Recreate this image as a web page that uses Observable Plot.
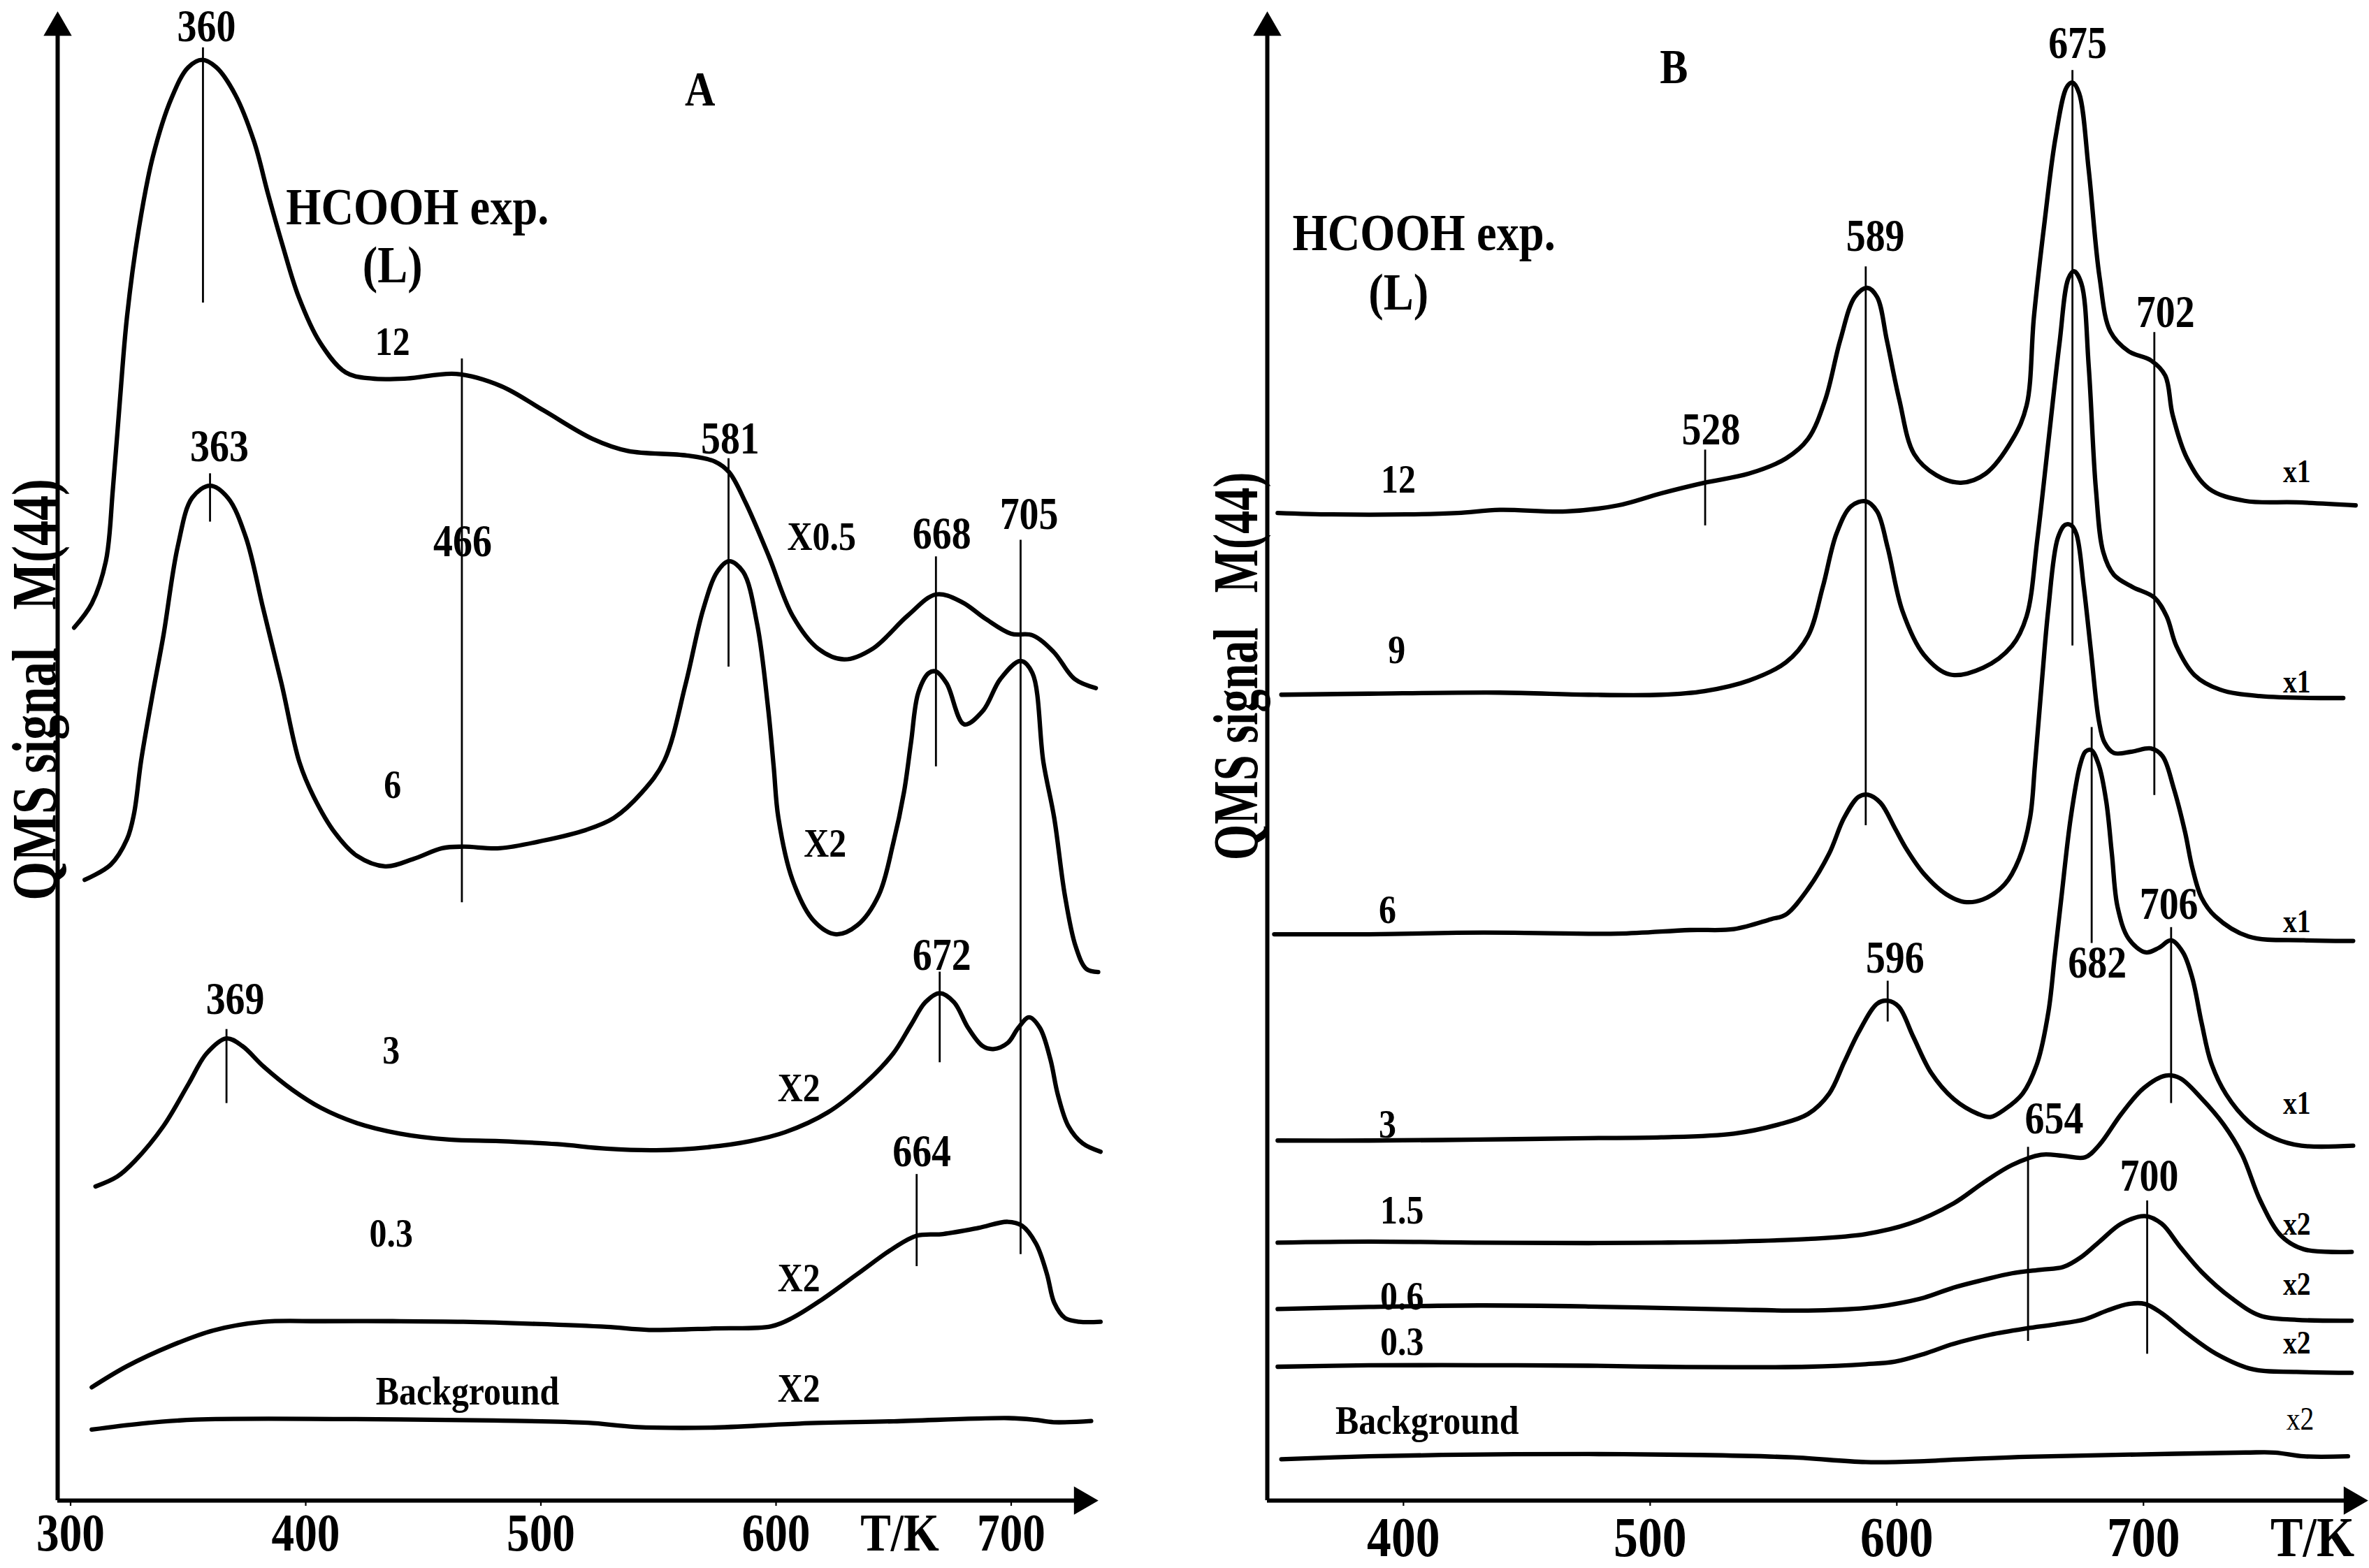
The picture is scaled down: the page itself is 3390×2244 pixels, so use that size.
<!DOCTYPE html>
<html>
<head>
<meta charset="utf-8">
<script src="https://cdn.jsdelivr.net/npm/d3@7"></script>
<script src="https://cdn.jsdelivr.net/npm/@observablehq/plot@0.6"></script>
<style>
  body { margin: 0; background: #fff; overflow: hidden; width: 3390px; height: 2244px; position: relative; }
  #panelA, #panelB { position: absolute; top: 0; }
  #panelA { left: 0; }
  #panelB { left: 1700px; }
</style>
</head>
<body>
<div id="panelA"></div>
<div id="panelB"></div>
<script>
// --- panel A : [T/K, QMS signal (arb.)] ---
const curveA12 = [[301.5,578],[309,594],[315,622],[318,670],[321,729],[324,784],[329,842],[335,890],[343,929],[350,949],[356,954],[362,949],[370,931],[378,900],[384,865],[390,832],[397,797],[406,767],[417,747],[428,743],[443,743],[464,746],[483,738],[501,722],[522,703],[537,695],[562,692],[574,688],[580,681],[587,661],[597,625],[607,586],[618,564],[629,557],[641,564],[656,586],[668,600],[679,595],[689,584],[700,574],[709,573],[718,562],[727,544],[736,538]]
const curveA6 = [[306,411],[317,421],[324,438],[327,455],[330,490],[335,535],[339.5,573],[345.6,632],[351.7,664],[359.3,672],[366.9,664],[374.5,638],[382,590],[389.7,541],[397.3,489],[403.4,466],[412.5,442],[421.7,427],[433.8,420],[446,425],[458,432],[467,433],[482.5,432],[501,437],[519,444],[531,452],[543,469],[552.5,490],[561.6,541],[569,590],[575,615],[580,622],[586,615],[592,580],[596.6,525],[599,486],[601,452],[607,411],[616,384],[625.5,375],[634.6,381],[643.7,401],[649.8,435],[654.4,469],[657.4,502],[660.5,535],[665,548],[668,549],[672.6,541],[680,514],[688,523],[695.4,544],[704,556],[709,548],[713.7,489],[718.3,452],[722.8,401],[727.4,367],[732,352],[737,350]]
const curveA3 = [[310.6,208],[319.8,214.5],[327.4,225],[339.5,248],[350.2,276],[357.8,296],[366.3,306],[373,301],[382,287.5],[394.3,272],[406.5,260],[421.7,250],[440,243],[461,239],[482.5,238],[507,236],[528,233],[549,232],[571,234],[589,238],[604,244],[622,257],[637.6,276],[649.8,296],[657.4,315],[663.5,330],[669.6,336],[675.7,330],[681.7,313],[687.8,301],[692.4,299],[698.5,303],[703,313],[707.6,320],[712.2,313],[716.7,292],[719.8,269],[724.3,248],[730.4,236.5],[738,231]]
const curveA03 = [[309,75],[324,89],[342.6,102.5],[360.8,112.7],[382,118.4],[406.5,118.8],[437,118.8],[467,118.4],[497.7,117],[528,115],[546,113],[574,114],[598,115.4],[607,121],[619.4,133],[634.6,150],[649.8,167],[659.8,175.4],[671,176.5],[686,180.5],[698.5,184.6],[704.6,182],[710.6,170],[715.2,150],[718.3,131],[722.8,121],[729,118.4],[738,118.4]]
const curveABg = [[309,47],[330,51],[353,53.6],[414,54],[480,53],[520,51.5],[540,48.8],[572,48.3],[610,51],[650,52.5],[699,54.6],[710,53.5],[718,51.9],[734,52.7]]

// peak markers [T, from, to]
const markA = [[356.3,793,962],[466.4,396,756],[359.3,648,680],[579.8,552,690],[668,486,625],[704,163,636],[366.3,263,312],[669.6,290,350],[659.8,155,216]]
const peakA = [[357.8,976,"360"],[363.3,698,"363"],[580.5,703,"581"],[466.7,635,"466"],[670.5,640,"668"],[707.6,653,"705"],[670.5,361,"672"],[370,332,"369"],[662,231,"664"]]
const doseA = [[436.9,767,"12"],[436.9,474,"6"],[436.3,298,"3"],[436.3,177,"0.3"],[468.8,72,"Background"]]
const factorA = [[619.4,638,"X0.5"],[620.9,435,"X2"],[609.7,273,"X2"],[609.7,147,"X2"],[609.7,74,"X2"]]
const headA = [[447.5,856,"HCOOH exp."],[436.9,818,"(L)"]]
const letterA = [[567.7,934,"A"]]
const ticksA = [300, 400, 500, 600, 700]

// --- panel B ---
const curveB12 = [[349,654],[371,653],[401,653],[422,654],[439,656],[466,655],[487,659],[504.5,667],[522,674],[540,680],[555,690],[564,703],[571,729],[577,768],[583,797],[588,803],[592,797],[596,768],[601,729],[607,693],[616,679],[626,674],[636,680],[647,703],[652.6,725],[655.6,784],[660,848],[664.4,903],[668.9,936],[671.2,939],[673.9,932],[677.8,881],[682.2,810],[686.6,774],[694,761],[703,755],[708.8,745],[711.8,719],[717.7,690],[726.6,670],[741,662],[762,661],[786,659]]
const curveB9 = [[350.5,533.6],[386,534.3],[439,535],[475,533.6],[504.5,533.6],[522,536],[540,543],[555,555],[564,572.5],[570,605],[575.6,640.6],[581.5,658.5],[587.4,661.7],[592,655],[596.3,631],[602.3,589],[611,560],[621.5,547],[635,551.5],[646.7,566],[652.6,585.5],[657,637],[661.5,702],[666,767],[669.5,809],[671.8,814],[674.8,806],[677.8,751],[680.7,670],[683.7,628],[688,613],[695.5,605],[704.4,598],[709.4,585.5],[713.3,566],[720.7,546.6],[731,537],[747,532.7],[781,531.4]]
const curveB6 = [[347.6,375],[386,375],[421.6,376],[445,376],[487,375.4],[516,377.8],[534,378.4],[549,385],[555,388],[564,405],[572.6,428.5],[578.6,452],[584.5,466],[588.3,467.4],[593.4,462],[599.3,445],[603.7,432],[611,415],[620,401.5],[627.4,396.4],[634.8,398],[643.7,408],[649.6,425],[654,452],[656,487],[659,546],[661.4,590],[665.2,637],[668.2,646],[670.5,646],[672.8,640],[675.8,605],[678.8,561],[681.9,516.5],[684.2,502],[688,495],[695.5,496],[703,498],[707.7,493],[712.2,472],[716.8,443],[719.8,419],[723.6,399],[729,387],[742.6,373.5],[765,371],[785,370.6]]
const curveB3 = [[349,238.4],[386,238.4],[430.5,239],[475,240],[504.5,240.5],[534,243],[552,249],[564,256],[572.6,269.5],[578.6,290],[584.5,310],[592,329],[596.3,331],[600.8,327],[606.7,307],[614,283],[623,266],[633,256],[638,254],[643.7,259],[651,269.5],[657,290],[661.5,324],[664,360],[666.7,399],[670.5,452],[674.3,487],[676.5,496],[678.8,497],[681.9,487],[684.9,463],[687.2,428],[689.5,393],[694,372],[700.9,363],[706.2,366],[711.2,371],[716,363],[719.8,346],[723.6,316],[727.4,290],[733.5,269],[742.6,251],[753,240],[764,235],[785,235]]
const curveB15 = [[349,170.8],[386,171.5],[430.5,170.8],[475,170.5],[504.5,170.8],[534,171.5],[564,173.2],[587.4,176.5],[605,183.3],[623,196.8],[635,210.4],[646.7,222.2],[658.5,229],[667.4,228.3],[676.3,227.3],[682.2,235.7],[691,256],[700,273],[709,281.4],[714.8,279.7],[723.7,266],[732.5,249],[740,229],[747.4,198.5],[756,175],[765,166.4],[784.4,164.7]]
const curveB06 = [[349,126.8],[386,128.2],[430.5,129.2],[475,128.5],[504.5,127.5],[534,126.5],[564,125.8],[587.4,127.5],[599.3,130.2],[611,134.3],[623,141],[635,146.1],[646.7,150.5],[658.5,152.9],[667.4,154.6],[674.8,161.3],[682.2,171.5],[691,183.3],[700.6,188.4],[707.4,183.3],[714.8,168.1],[723.7,151.2],[735.5,134.3],[747.4,122.4],[762,119.7],[784.4,119.1]]
const curveB03 = [[349,88.6],[386,89.6],[430.5,89.6],[475,89.3],[504.5,88.6],[534,88.3],[564,88.6],[587.4,90.3],[599.3,92],[611,97.1],[623,103.8],[638,109.9],[652.6,114],[664.4,116.7],[676.3,120.1],[685.2,125.8],[694,130.2],[700.6,130.2],[707.4,124.1],[717.7,110.6],[729.6,97.1],[744.4,86.9],[762,85.2],[784.4,84.6]]
const curveBBg = [[350.5,27.4],[386,29.3],[430.5,30.5],[475,30.8],[519.3,30.2],[557.8,28.6],[587.4,25.5],[611,26.1],[623,27.1],[652.6,29],[697,30.5],[741.4,31.8],[753.3,31.8],[765,29.3],[782.9,29.3]]

const markB = [[522.3,645.5,695.7],[587.4,447,817],[671.2,566,947],[704.4,467,773.5],[596.3,317,344],[679,369,512],[711.2,263,379.5],[653.2,105.5,234],[701.5,97,198.5]]
const peakB = [[524.7,709,"528"],[591.3,837,"589"],[673.3,965,"675"],[708.9,786.5,"702"],[599.3,359,"596"],[710.3,395,"706"],[681.3,356,"682"],[663.8,253,"654"],[702.3,215,"700"]]
const doseB = [[397.9,676,"12"],[397.3,563,"9"],[393.5,391,"6"],[393.5,249,"3"],[399.4,192,"1.5"],[399.4,135,"0.6"],[399.4,105,"0.3"],[409.6,53,"Background"]]
const factorB = [[762.2,681,"x1"],[762.2,542,"x1"],[762.2,383,"x1"],[762.2,263,"x1"],[762.2,183,"x2"],[762.2,143,"x2"],[762.2,104,"x2"]]
const factorBLight = [[763.5,54,"x2"]]
const headB = [[408.3,839,"HCOOH exp."],[398,800,"(L)"]]
const letterB = [[509.6,949,"B"]]
const ticksB = [400, 500, 600, 700]

const yTop = 986
const yTitle = "QMS signal\u00a0\u00a0\u00a0M(44)"
const squeeze = 0.86   // the original lettering is a narrow, tall Times bold

const pts = a => a.map(([T, S, t]) => ({T, S, t}))

function panel(el, cfg) {
  const rows = cfg.curves.flatMap(([id, c]) => c.map(([T, S]) => ({id, T, S})))
  const [x0, x1] = cfg.xDomain
  const txt = (data, size, weight = "bold") =>
    Plot.text(pts(data), {x: "T", y: "S", text: "t", fontSize: size, fontWeight: weight, fill: "black"})

  const chart = Plot.plot({
    width: cfg.width,
    height: 2244,
    marginLeft: cfg.marginLeft,
    marginRight: cfg.marginRight,
    marginTop: 16,
    marginBottom: 97,
    x: {domain: cfg.xDomain},
    y: {domain: [0, yTop], axis: null},
    style: {fontFamily: "Liberation Serif", background: "transparent", maxWidth: "none", overflow: "visible"},
    marks: [
      // axes with arrow heads
      Plot.ruleY([{y: 0, a: x0, b: x1 - 6}], {y: "y", x1: "a", x2: "b", strokeWidth: 6}),
      Plot.ruleX([{x: x0, a: 0, b: yTop - 6}], {x: "x", y1: "a", y2: "b", strokeWidth: 6}),
      Plot.dot([{x: x1, y: 0}], {x: "x", y: "y", symbol: "triangle", r: 15, fill: "black", rotate: 90, dx: -23}),
      Plot.dot([{x: x0, y: yTop}], {x: "x", y: "y", symbol: "triangle", r: 15, fill: "black", dy: 23}),
      Plot.axisX(cfg.ticks, {tickSize: 8, tickPadding: cfg.tickPad, fontSize: cfg.tickSize, fontWeight: "bold", label: null, strokeWidth: 2.2}),
      Plot.text([{T: cfg.unitX, S: 0, t: "T/K"}], {x: "T", y: "S", text: "t", lineAnchor: "top", dy: 8 + cfg.tickPad, fontSize: cfg.tickSize, fontWeight: "bold"}),
      Plot.text([{T: cfg.titleX, S: cfg.titleY, t: yTitle}], {x: "T", y: "S", text: "t", rotate: -90, fontSize: cfg.titleSize, fontWeight: "bold"}),

      Plot.ruleX(cfg.marks.map(([T, lo, hi]) => ({T, lo, hi})), {x: "T", y1: "lo", y2: "hi", stroke: "black", strokeWidth: 2.8}),
      Plot.line(rows, {x: "T", y: "S", z: "id", curve: "catmull-rom", stroke: "black", strokeWidth: 6.3, strokeLinejoin: "round"}),

      txt(cfg.peaks, 65),
      txt(cfg.doses, 58),
      txt(cfg.factors, cfg.factorSize),
      txt(cfg.factorsLight || [], cfg.factorSize, "normal"),
      txt(cfg.head, 75),
      txt(cfg.letter, 70)
    ]
  })

  // narrow every label; the rotated axis title gets its own factor
  d3.select(chart).selectAll("text").each(function () {
    const t = this.getAttribute("transform")
    if (!t) return
    const k = this.textContent === yTitle ? cfg.titleSqueeze : squeeze
    this.setAttribute("transform", `${t} scale(${k},1)`)
  })

  document.getElementById(el).append(chart)
}

panel("panelA", {
  curves: [["12", curveA12], ["6", curveA6], ["3", curveA3], ["0.3", curveA03], ["bg", curveABg]],
  marks: markA, peaks: peakA, doses: doseA, factors: factorA, head: headA, letter: letterA,
  ticks: ticksA, xDomain: [294.5, 737], width: 1700, marginLeft: 82, marginRight: 129,
  tickSize: 76, tickPad: 10, unitX: 652.6, titleX: 285.3, titleY: 537, titleSize: 90, titleSqueeze: 0.8,
  factorSize: 58
})

panel("panelB", {
  curves: [["12", curveB12], ["9", curveB9], ["6", curveB6], ["3", curveB3], ["1.5", curveB15], ["0.6", curveB06], ["0.3", curveB03], ["bg", curveBBg]],
  marks: markB, peaks: peakB, doses: doseB, factors: factorB, factorsLight: factorBLight, head: headB, letter: letterB,
  ticks: ticksB, xDomain: [344.8, 791], width: 1690, marginLeft: 113, marginRight: 2,
  tickSize: 81, tickPad: 14, unitX: 768.5, titleX: 332.3, titleY: 552.5, titleSize: 92, titleSqueeze: 0.72,
  factorSize: 46
})
</script>
</body>
</html>
